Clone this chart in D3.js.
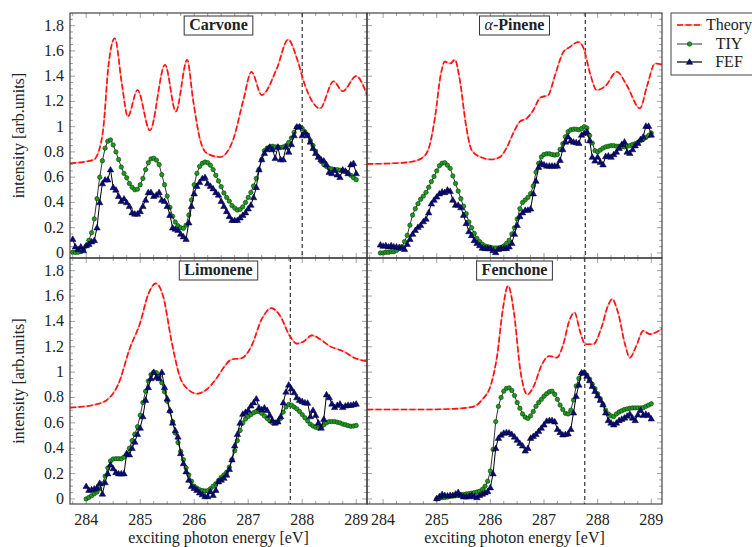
<!DOCTYPE html>
<html><head><meta charset="utf-8">
<script src="https://cdn.jsdelivr.net/npm/d3@7"></script>
<style>
html,body{margin:0;padding:0;background:#fff;}
svg{display:block;}
text{font-family:"Liberation Serif","DejaVu Serif",serif;fill:#222;}
</style></head><body>
<svg id="c" width="752" height="547"></svg>
<script>
// ---------------- data ----------------
const panelNames = ["Carvone", "α-Pinene", "Limonene", "Fenchone"];
const seriesNames = ["Theory", "TIY", "FEF"];
const xTicks = [284, 285, 286, 287, 288, 289];
const yTicks = [0, 0.2, 0.4, 0.6, 0.8, 1, 1.2, 1.4, 1.6, 1.8];
const dashedEnergy = [288.0, 287.77, 287.78, 287.76];
const energyStep = 0.05;

// Theory curves (energy / intensity pairs read at key points)
const carvoneTheoryE = [283.70,284.13,284.22,284.32,284.41,284.53,284.66,284.77,284.95,285.18,285.46,285.66,285.87,285.98,286.11,286.23,286.48,286.72,286.91,287.06,287.25,287.53,287.74,287.91,288.05,288.33,288.58,288.75,289.00,289.20];
const carvoneTheoryV = [0.71,0.736,0.79,1.0,1.475,1.70,1.34,1.08,1.29,0.97,1.49,1.12,1.53,1.21,0.895,0.79,0.76,0.895,1.21,1.435,1.25,1.46,1.69,1.53,1.33,1.145,1.36,1.28,1.40,1.25];
const pineneTheoryE = [283.70,284.19,284.50,284.72,284.84,284.97,285.07,285.15,285.25,285.34,285.43,285.55,285.65,285.81,286.02,286.18,286.30,286.43,286.55,286.68,286.80,286.93,287.08,287.20,287.36,287.48,287.64,287.73,287.86,287.98,288.14,288.36,288.54,288.79,288.92,289.07,289.20];
const pineneTheoryV = [0.705,0.71,0.72,0.75,0.815,1.08,1.40,1.515,1.50,1.53,1.37,1.0,0.815,0.76,0.74,0.76,0.83,0.95,1.04,1.066,1.13,1.23,1.25,1.40,1.59,1.63,1.67,1.63,1.42,1.29,1.32,1.435,1.33,1.145,1.32,1.50,1.49];
const limoneneTheoryE = [283.70,284.13,284.38,284.59,284.81,285.00,285.15,285.29,285.43,285.58,285.74,285.89,286.05,286.23,286.42,286.57,286.69,286.88,287.06,287.25,287.43,287.59,287.77,287.90,288.02,288.18,288.33,288.51,288.76,288.98,289.20];
const limoneneTheoryV = [0.72,0.74,0.78,0.90,1.19,1.39,1.615,1.70,1.59,1.245,0.955,0.863,0.83,0.863,0.955,1.05,1.10,1.11,1.205,1.417,1.505,1.445,1.285,1.225,1.24,1.29,1.26,1.205,1.165,1.11,1.085];
const fenchoneTheoryE = [283.70,284.80,285.42,285.70,285.85,286.01,286.13,286.22,286.33,286.44,286.56,286.69,286.81,286.96,287.10,287.24,287.36,287.47,287.57,287.67,287.77,287.92,288.07,288.19,288.27,288.38,288.51,288.60,288.72,288.85,288.97,289.20];
const fenchoneTheoryV = [0.705,0.705,0.713,0.73,0.784,0.90,1.14,1.457,1.68,1.47,1.01,0.823,0.89,1.06,1.127,1.114,1.22,1.404,1.47,1.325,1.22,1.22,1.35,1.52,1.576,1.47,1.22,1.114,1.206,1.325,1.30,1.34];

// Measured series (one value every energyStep eV from the start energy)
const carvoneStart = 283.75;
const carvoneTIY = [0.005,0.005,0.005,0.01,0.03,0.055,0.10,0.16,0.27,0.43,0.60,0.73,0.83,0.885,0.895,0.855,0.80,0.74,0.68,0.63,0.595,0.55,0.52,0.50,0.505,0.54,0.59,0.66,0.715,0.745,0.75,0.735,0.70,0.62,0.54,0.45,0.36,0.29,0.245,0.215,0.20,0.195,0.22,0.30,0.42,0.54,0.63,0.685,0.71,0.72,0.715,0.695,0.66,0.615,0.57,0.525,0.475,0.44,0.41,0.375,0.355,0.34,0.345,0.365,0.40,0.44,0.48,0.53,0.59,0.66,0.74,0.81,0.83,0.84,0.845,0.84,0.84,0.835,0.84,0.85,0.875,0.91,0.955,0.995,1.0,0.985,0.96,0.935,0.89,0.85,0.805,0.76,0.725,0.70,0.685,0.67,0.665,0.66,0.66,0.655,0.65,0.645,0.63,0.615,0.595,0.58];
const carvoneFEF = [0.11,0.05,0.03,0.05,0.02,0.06,0.07,0.09,0.10,0.20,0.40,0.55,0.58,0.58,0.66,0.52,0.50,0.45,0.41,0.43,0.40,0.37,0.32,0.31,0.31,0.33,0.37,0.42,0.48,0.48,0.45,0.46,0.48,0.42,0.41,0.37,0.30,0.20,0.19,0.18,0.15,0.13,0.11,0.24,0.37,0.47,0.53,0.56,0.59,0.60,0.55,0.53,0.51,0.48,0.46,0.41,0.37,0.33,0.29,0.26,0.26,0.26,0.28,0.30,0.32,0.35,0.38,0.44,0.52,0.66,0.74,0.79,0.82,0.84,0.82,0.75,0.84,0.74,0.74,0.84,0.80,0.86,0.93,1.0,1.0,0.93,0.95,0.93,0.88,0.83,0.79,0.76,0.74,0.73,0.70,0.64,0.63,0.655,0.62,0.60,0.66,0.65,0.63,0.70,0.71,0.63];

const pineneStart = 283.95;
const pineneTIY = [0.0,0.0,0.005,0.005,0.01,0.01,0.02,0.035,0.05,0.09,0.14,0.22,0.30,0.35,0.39,0.425,0.45,0.48,0.52,0.565,0.605,0.65,0.69,0.71,0.715,0.695,0.67,0.61,0.55,0.49,0.43,0.37,0.31,0.245,0.20,0.155,0.115,0.09,0.07,0.055,0.05,0.045,0.04,0.04,0.04,0.045,0.055,0.075,0.10,0.15,0.20,0.27,0.35,0.40,0.42,0.44,0.47,0.53,0.64,0.71,0.76,0.78,0.785,0.785,0.78,0.775,0.78,0.82,0.865,0.92,0.96,0.975,0.98,0.98,0.975,0.985,1.0,0.99,0.93,0.87,0.81,0.80,0.815,0.83,0.84,0.845,0.85,0.85,0.845,0.845,0.84,0.84,0.845,0.85,0.86,0.865,0.875,0.89,0.90,0.915,0.93,0.95];
const pineneFEF = [0.065,0.055,0.06,0.05,0.06,0.05,0.05,0.045,0.04,0.03,0.07,0.11,0.15,0.18,0.205,0.22,0.25,0.27,0.32,0.39,0.42,0.445,0.47,0.485,0.48,0.50,0.49,0.42,0.38,0.38,0.36,0.30,0.235,0.17,0.14,0.10,0.077,0.06,0.04,0.037,0.037,0.035,0.02,0.005,0.03,0.037,0.037,0.037,0.05,0.077,0.15,0.22,0.29,0.32,0.34,0.34,0.35,0.47,0.57,0.68,0.71,0.70,0.69,0.69,0.69,0.69,0.69,0.735,0.82,0.88,0.92,0.89,0.88,0.875,0.87,0.935,0.95,0.96,0.89,0.76,0.73,0.76,0.72,0.70,0.765,0.77,0.76,0.78,0.80,0.83,0.86,0.88,0.80,0.79,0.82,0.85,0.87,0.90,0.92,1.005,1.005,0.935];

const limoneneStart = 284.0;
const limoneneTIY = [0.0,0.012,0.026,0.04,0.055,0.08,0.12,0.18,0.245,0.30,0.315,0.317,0.317,0.317,0.33,0.35,0.40,0.46,0.51,0.57,0.66,0.76,0.85,0.93,0.98,1.0,0.995,0.965,0.916,0.845,0.77,0.69,0.61,0.52,0.445,0.375,0.31,0.245,0.19,0.14,0.10,0.085,0.072,0.066,0.063,0.065,0.08,0.10,0.12,0.145,0.17,0.19,0.21,0.25,0.31,0.38,0.46,0.54,0.60,0.63,0.65,0.665,0.68,0.69,0.69,0.675,0.655,0.635,0.615,0.60,0.60,0.61,0.635,0.685,0.725,0.745,0.74,0.725,0.71,0.69,0.665,0.64,0.615,0.59,0.575,0.565,0.56,0.565,0.585,0.60,0.61,0.61,0.61,0.605,0.60,0.59,0.585,0.578,0.573,0.575,0.58];
const limoneneFEF = [0.10,0.07,0.075,0.08,0.09,0.125,0.04,0.13,0.20,0.27,0.24,0.21,0.20,0.20,0.20,0.36,0.35,0.40,0.45,0.51,0.56,0.65,0.78,0.88,0.95,1.0,0.96,0.95,1.0,0.88,0.79,0.70,0.60,0.54,0.49,0.36,0.28,0.216,0.15,0.10,0.085,0.07,0.05,0.035,0.02,0.02,0.058,0.03,0.07,0.137,0.15,0.165,0.19,0.235,0.31,0.42,0.51,0.60,0.67,0.685,0.70,0.735,0.76,0.79,0.72,0.705,0.72,0.70,0.66,0.62,0.60,0.61,0.65,0.76,0.845,0.90,0.87,0.84,0.80,0.78,0.77,0.76,0.757,0.65,0.70,0.66,0.60,0.56,0.63,0.823,0.80,0.75,0.723,0.74,0.75,0.723,0.735,0.74,0.74,0.745,0.75];

const fenchoneStart = 285.0;
const fenchoneTIY = [0.0,0.005,0.01,0.012,0.015,0.02,0.022,0.025,0.03,0.032,0.035,0.04,0.042,0.045,0.05,0.055,0.06,0.075,0.10,0.14,0.22,0.39,0.61,0.73,0.80,0.85,0.872,0.876,0.855,0.815,0.76,0.715,0.67,0.645,0.635,0.655,0.69,0.73,0.76,0.785,0.81,0.83,0.845,0.85,0.825,0.785,0.74,0.705,0.675,0.67,0.70,0.78,0.89,0.95,0.99,1.0,0.975,0.945,0.905,0.87,0.83,0.79,0.745,0.70,0.67,0.655,0.65,0.67,0.685,0.695,0.705,0.71,0.715,0.718,0.718,0.718,0.718,0.72,0.73,0.74,0.75];
const fenchoneFEF = [0.005,0.02,0.037,0.03,0.026,0.03,0.03,0.04,0.053,0.03,0.018,0.018,0.02,0.03,0.02,0.012,0.03,0.04,0.05,0.06,0.09,0.20,0.40,0.48,0.505,0.52,0.525,0.523,0.51,0.49,0.465,0.44,0.42,0.38,0.40,0.48,0.495,0.51,0.535,0.56,0.585,0.615,0.62,0.62,0.61,0.55,0.525,0.507,0.51,0.515,0.55,0.68,0.81,0.90,0.995,0.995,0.97,0.935,0.89,0.85,0.815,0.78,0.744,0.68,0.62,0.60,0.586,0.60,0.62,0.63,0.64,0.655,0.67,0.64,0.62,0.665,0.70,0.66,0.67,0.66,0.633];

// ---------------- drawing ----------------
const svg = d3.select("#c");
const colX = [[70, 367], [367, 662]];
const rowY = [[13, 258], [258, 504]];
const xDomain = [283.7, 289.2];
const yDomain = [-0.04, 1.9];

const panels = [
  {name: panelNames[0], col: 0, row: 0, thE: carvoneTheoryE, thV: carvoneTheoryV, start: carvoneStart, tiy: carvoneTIY, fef: carvoneFEF, dash: dashedEnergy[0]},
  {name: panelNames[1], col: 1, row: 0, thE: pineneTheoryE, thV: pineneTheoryV, start: pineneStart, tiy: pineneTIY, fef: pineneFEF, dash: dashedEnergy[1]},
  {name: panelNames[2], col: 0, row: 1, thE: limoneneTheoryE, thV: limoneneTheoryV, start: limoneneStart, tiy: limoneneTIY, fef: limoneneFEF, dash: dashedEnergy[2]},
  {name: panelNames[3], col: 1, row: 1, thE: fenchoneTheoryE, thV: fenchoneTheoryV, start: fenchoneStart, tiy: fenchoneTIY, fef: fenchoneFEF, dash: dashedEnergy[3]}
];

const tickColor = "#8a8a8a";
const xMinor = d3.range(283.75, 289.21, 0.25).filter(v => Math.abs(v - Math.round(v)) > 1e-6);
const yMinor = d3.range(-0.0, 1.9, 0.05).filter(v => Math.abs(v * 5 - Math.round(v * 5)) > 1e-6);

const TIYcolor = "#1e9a1e";
const FEFcolor = "#0a0a80";
const triangle = d3.symbol().type(d3.symbolTriangle).size(18);

panels.forEach((p, i) => {
  const [x0, x1] = colX[p.col];
  const [y0, y1] = rowY[p.row];
  const x = d3.scaleLinear().domain(xDomain).range([x0, x1]);
  const y = d3.scaleLinear().domain(yDomain).range([y1, y0]);
  const g = svg.append("g");

  g.append("clipPath").attr("id", "clip" + i)
    .append("rect").attr("x", x0).attr("y", y0).attr("width", x1 - x0).attr("height", y1 - y0);

  // ticks (inward, all four sides)
  const tk = g.append("g").attr("stroke", tickColor).attr("stroke-width", 0.8);
  xTicks.forEach(t => {
    tk.append("line").attr("x1", x(t)).attr("x2", x(t)).attr("y1", y1).attr("y2", y1 - 5);
    tk.append("line").attr("x1", x(t)).attr("x2", x(t)).attr("y1", y0).attr("y2", y0 + 5);
  });
  xMinor.forEach(t => {
    tk.append("line").attr("x1", x(t)).attr("x2", x(t)).attr("y1", y1).attr("y2", y1 - 3);
    tk.append("line").attr("x1", x(t)).attr("x2", x(t)).attr("y1", y0).attr("y2", y0 + 3);
  });
  yTicks.forEach(t => {
    tk.append("line").attr("x1", x0).attr("x2", x0 + 5).attr("y1", y(t)).attr("y2", y(t));
    tk.append("line").attr("x1", x1).attr("x2", x1 - 5).attr("y1", y(t)).attr("y2", y(t));
  });
  yMinor.forEach(t => {
    tk.append("line").attr("x1", x0).attr("x2", x0 + 3).attr("y1", y(t)).attr("y2", y(t));
    tk.append("line").attr("x1", x1).attr("x2", x1 - 3).attr("y1", y(t)).attr("y2", y(t));
  });

  const plot = g.append("g").attr("clip-path", `url(#clip${i})`);

  // dashed reference line
  plot.append("line").attr("x1", x(p.dash)).attr("x2", x(p.dash)).attr("y1", y0).attr("y2", y1)
    .attr("stroke", "#333").attr("stroke-width", 1.2).attr("stroke-dasharray", "4,3");

  // theory
  const thData = p.thE.map((e, k) => [e, p.thV[k]]);
  const thLine = d3.line().x(d => x(d[0])).y(d => y(d[1])).curve(d3.curveMonotoneX);
  plot.append("path").attr("d", thLine(thData)).attr("fill", "none")
    .attr("stroke", "#ffa0a0").attr("stroke-width", 1.6);
  plot.append("path").attr("d", thLine(thData)).attr("fill", "none")
    .attr("stroke", "#ff1010").attr("stroke-width", 1.6).attr("stroke-dasharray", "6,2.5");

  const mline = d3.line().x(d => x(d[0])).y(d => y(d[1]));
  const tiyData = p.tiy.map((v, k) => [p.start + k * energyStep, v]);
  const fefData = p.fef.map((v, k) => [p.start + k * energyStep, v]);

  // TIY
  plot.append("path").attr("d", mline(tiyData)).attr("fill", "none").attr("stroke", "#333").attr("stroke-width", 1);
  plot.selectAll(null).data(tiyData).enter().append("circle")
    .attr("cx", d => x(d[0])).attr("cy", d => y(d[1])).attr("r", 2.2)
    .attr("fill", TIYcolor).attr("stroke", "#0c3a0c").attr("stroke-width", 0.6);
  // FEF
  plot.append("path").attr("d", mline(fefData)).attr("fill", "none").attr("stroke", "#000").attr("stroke-width", 1);
  plot.selectAll(null).data(fefData).enter().append("path")
    .attr("d", triangle).attr("transform", d => `translate(${x(d[0])},${y(d[1]) + 0.5})`)
    .attr("fill", FEFcolor).attr("stroke", "#000022").attr("stroke-width", 0.5);

  // frame
  g.append("rect").attr("x", x0).attr("y", y0).attr("width", x1 - x0).attr("height", y1 - y0)
    .attr("fill", "none").attr("stroke", "#333").attr("stroke-width", 1.1);

  // title box
  const cx = (x0 + x1) / 2;
  const tg = g.append("g");
  const tt = tg.append("text").attr("x", cx).attr("y", y0 + 17).attr("text-anchor", "middle")
    .attr("font-size", 16).attr("font-weight", "bold");
  if (p.name.startsWith("α")) {
    tt.append("tspan").attr("font-style", "italic").attr("font-weight", "normal").text("α");
    tt.append("tspan").text(p.name.slice(1));
  } else {
    tt.text(p.name);
  }
  const bb = tt.node().getBBox();
  tg.insert("rect", "text").attr("x", bb.x - 5).attr("y", y0 + 3).attr("width", bb.width + 10).attr("height", 19)
    .attr("fill", "#fff").attr("stroke", "#333").attr("stroke-width", 1);

  // tick labels
  if (p.col === 0) {
    yTicks.forEach(t => {
      g.append("text").attr("x", x0 - 6).attr("y", y(t) + 5).attr("text-anchor", "end")
        .attr("font-size", 16).text(t === 0 ? "0" : t === 1 ? "1" : d3.format(".1f")(t));
    });
    g.append("text").attr("transform", `translate(24,${(y0 + y1) / 2}) rotate(-90)`)
      .attr("text-anchor", "middle").attr("font-size", 16).text("intensity [arb.units]");
  }
  if (p.row === 1) {
    xTicks.forEach(t => {
      g.append("text").attr("x", x(t)).attr("y", y1 + 21).attr("text-anchor", "middle")
        .attr("font-size", 16).text(t);
    });
    g.append("text").attr("x", cx).attr("y", y1 + 39).attr("text-anchor", "middle")
      .attr("font-size", 16).text("exciting photon energy [eV]");
  }
});

// legend
const lg = svg.append("g");
lg.append("rect").attr("x", 671).attr("y", 13).attr("width", 110).attr("height", 62)
  .attr("fill", "#fff").attr("stroke", "#444").attr("stroke-width", 1);
const rows = [25, 44, 62];
// Theory
lg.append("line").attr("x1", 677).attr("x2", 702).attr("y1", rows[0]).attr("y2", rows[0])
  .attr("stroke", "#ffa0a0").attr("stroke-width", 1.6);
lg.append("line").attr("x1", 677).attr("x2", 702).attr("y1", rows[0]).attr("y2", rows[0])
  .attr("stroke", "#ff1010").attr("stroke-width", 1.6).attr("stroke-dasharray", "6,2.5");
// TIY
lg.append("line").attr("x1", 677).attr("x2", 702).attr("y1", rows[1]).attr("y2", rows[1])
  .attr("stroke", "#555").attr("stroke-width", 1.2);
lg.append("circle").attr("cx", 689.5).attr("cy", rows[1]).attr("r", 2.2)
  .attr("fill", TIYcolor).attr("stroke", "#0c3a0c").attr("stroke-width", 0.6);
// FEF
lg.append("line").attr("x1", 677).attr("x2", 702).attr("y1", rows[2]).attr("y2", rows[2])
  .attr("stroke", "#000").attr("stroke-width", 1.2);
lg.append("path").attr("d", triangle).attr("transform", `translate(689.5,${rows[2] + 0.5})`)
  .attr("fill", FEFcolor).attr("stroke", "#000022").attr("stroke-width", 0.5);
seriesNames.forEach((s, k) => {
  lg.append("text").attr("x", 729).attr("y", rows[k] + 5).attr("text-anchor", "middle")
    .attr("font-size", 16).text(s);
});
</script>
</body></html>
